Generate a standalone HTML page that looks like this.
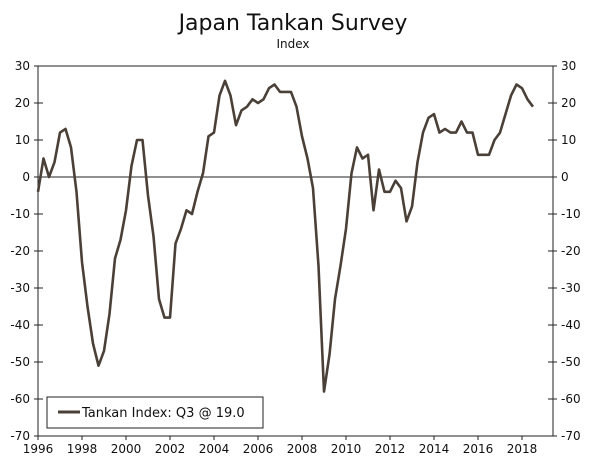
<!DOCTYPE html>
<html><head><meta charset="utf-8">
<style>
html,body{margin:0;padding:0;background:#fff;}
svg text{font-family:"DejaVu Sans","Liberation Sans",sans-serif;fill:#111;}
</style></head>
<body>
<svg width="600" height="458" viewBox="0 0 600 458">
<text x="293" y="30" font-size="22" text-anchor="middle">Japan Tankan Survey</text>
<text x="293" y="48" font-size="12" text-anchor="middle">Index</text>
<g id="axes"></g>
<g id="series"></g>
<g>
<rect x="47" y="397" width="216" height="31" fill="#fff" stroke="#222" stroke-width="1"/>
<line x1="58" y1="412" x2="80" y2="412" stroke="#4a4038" stroke-width="3"/>
<text x="82" y="417" font-size="13">Tankan Index: Q3 @ 19.0</text>
</g>
</svg>
<script>
const values = [-4,5,0,4, 12,13,8,-4, -23,-35,-45,-51, -47,-37,-22,-17, -9,3,10,10,
 -5,-16,-33,-38, -38,-18,-14,-9, -10,-4,1,11, 12,22,26,22, 14,18,19,21,
 20,21,24,25, 23,23,23,19, 11,5,-3,-24, -58,-48,-33,-24, -14,1,8,5,
 6,-9,2,-4, -4,-1,-3,-12, -8,4,12,16, 17,12,13,12, 12,15,12,12,
 6,6,6,10, 12,17,22,25, 24,21,19];
const yTicks = [30,20,10,0,-10,-20,-30,-40,-50,-60,-70];
const xTicks = [1996,1998,2000,2002,2004,2006,2008,2010,2012,2014,2016,2018];
const startYear = 1996;
const NS='http://www.w3.org/2000/svg';
const L=38,R=553,T=66,B=436;
function y(v){return T+(30-v)*(B-T)/100;}
function x(yr){return L+(yr-1996)*22;}
function mk(tag,attrs,parent){const e=document.createElementNS(NS,tag);for(const k in attrs)e.setAttribute(k,attrs[k]);parent.appendChild(e);return e;}
const ax=document.getElementById('axes');
const la=mk('line',{x1:L,y1:T,x2:L,y2:B,stroke:'#222','stroke-width':1},ax);


const ra=mk('line',{x1:R,y1:T,x2:R,y2:B,stroke:'#222','stroke-width':1},ax);


const ta=mk('line',{x1:L,y1:T,x2:R,y2:T,stroke:'#222','stroke-width':1},ax);


const ba=mk('line',{x1:L,y1:B,x2:R,y2:B,stroke:'#222','stroke-width':1},ax);


const zl=mk('line',{x1:L,y1:y(0),x2:R,y2:y(0),stroke:'#222','stroke-width':1},ax);


yTicks.forEach(v=>{
  const yy=y(v);
  mk('line',{x1:L-4,y1:yy,x2:L+5,y2:yy,stroke:'#222'},ax);
  mk('line',{x1:R-5,y1:yy,x2:R+4,y2:yy,stroke:'#222'},ax);
  const t1=mk('text',{x:L-8,y:yy+4,'font-size':12,'text-anchor':'end'},ax);t1.textContent=v;
  
  
  const t2=mk('text',{x:R+8,y:yy+4,'font-size':12,'text-anchor':'start'},ax);t2.textContent=v;
  
  
});
xTicks.forEach(yr=>{
  const xx=x(yr);
  mk('line',{x1:xx,y1:B,x2:xx,y2:B+4,stroke:'#222'},ax);
  const t=mk('text',{x:xx,y:B+17,'font-size':12,'text-anchor':'middle'},ax);t.textContent=yr;
  
  
});
const pts=values.map((v,i)=>x(startYear+i/4).toFixed(1)+','+y(v).toFixed(1)).join(' ');
const pl=mk('polyline',{points:pts,fill:'none',stroke:'#4a4038','stroke-width':2.6,'stroke-linejoin':'round'},document.getElementById('series'));


</script>
</body></html>
